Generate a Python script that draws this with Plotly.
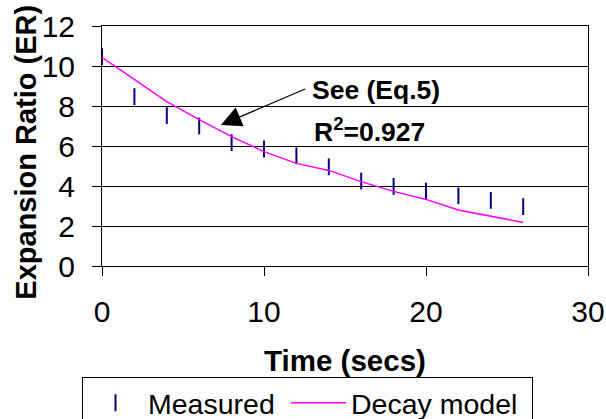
import plotly.graph_objects as go

time_s = [0, 2, 4, 6, 8, 10, 12, 14, 16, 18, 20, 22, 24, 26]
measured = [10.47, 8.47, 7.52, 7.0, 6.17, 5.85, 5.51, 4.96, 4.25, 3.98, 3.74, 3.51, 3.28, 2.97]
decay_model = [10.43, 9.33, 8.22, 7.32, 6.47, 5.72, 5.13, 4.78, 4.22, 3.73, 3.33, 2.8, 2.5, 2.18]

x_ticks = [0, 10, 20, 30]
y_ticks = [0, 2, 4, 6, 8, 10, 12]

FONT = "Liberation Sans, Arial, sans-serif"

fig = go.Figure()
fig.add_trace(go.Scatter(
    x=time_s, y=measured, mode="markers", name="Measured", legendwidth=133,
    marker=dict(symbol="line-ns", size=12, line=dict(color="#000080", width=2), color="#000080"),
))
fig.add_trace(go.Scatter(
    x=time_s, y=decay_model, mode="lines", name="Decay model", legendwidth=176,
    line=dict(color="#FF00FF", width=1.5),
))

# arrow
fig.add_annotation(
    x=7.34, y=7.05, ax=12.63, ay=8.885, axref="x", ayref="y", xref="x", yref="y",
    text="", showarrow=True, arrowhead=2, arrowsize=3.4, arrowwidth=1.2, arrowcolor="black",
)
fig.add_annotation(
    x=12.85, y=8.8, xref="x", yref="y", text="<b>See (Eq.5)</b>", showarrow=False,
    xanchor="left", yanchor="middle", font=dict(family=FONT, size=26.5, color="black"),
)
fig.add_annotation(
    x=12.95, y=6.8, xref="x", yref="y", text="<b>R<sup>2</sup>=0.927</b>", showarrow=False,
    xanchor="left", yanchor="middle", font=dict(family=FONT, size=26.5, color="black"),
)
# y-axis title
fig.add_annotation(
    x=-0.157, y=0.475, xref="paper", yref="paper", text="<b>Expansion Ratio (ER)</b>",
    textangle=-90, showarrow=False, xanchor="center", yanchor="middle",
    font=dict(family=FONT, size=29, color="black"),
)

fig.update_layout(
    width=606, height=419,
    margin=dict(l=101.5, r=17.5, t=26, b=153, pad=0, autoexpand=False),
    paper_bgcolor="white", plot_bgcolor="white",
    font=dict(family=FONT, color="black"),
    showlegend=True,
    legend=dict(
        orientation="h", xref="container", yref="container",
        x=82 / 606, y=1 - 376.7 / 419, xanchor="left", yanchor="top",
        bordercolor="black", borderwidth=1, bgcolor="white",
        font=dict(family=FONT, size=28.5, color="black"),
        itemwidth=55,
    ),
    xaxis=dict(
        range=[0, 30], tickvals=x_ticks, ticks="outside", ticklen=9, tickcolor="black",
        showline=True, linecolor="black", linewidth=1, mirror=True, showgrid=False, zeroline=False,
        automargin=False, ticklabelstandoff=10,
        tickfont=dict(family=FONT, size=30, color="black"),
        title=dict(text="<b>Time (secs)</b>", font=dict(family=FONT, size=29.5, color="black"), standoff=28),
    ),
    yaxis=dict(
        range=[0, 12], tickvals=y_ticks, ticks="outside", ticklen=9, tickcolor="black",
        showline=True, linecolor="black", linewidth=1, mirror=True,
        showgrid=True, gridcolor="black", gridwidth=1, zeroline=False,
        automargin=False, ticklabelstandoff=11,
        tickfont=dict(family=FONT, size=30, color="black"),
    ),
)

fig.write_html("out.html")
